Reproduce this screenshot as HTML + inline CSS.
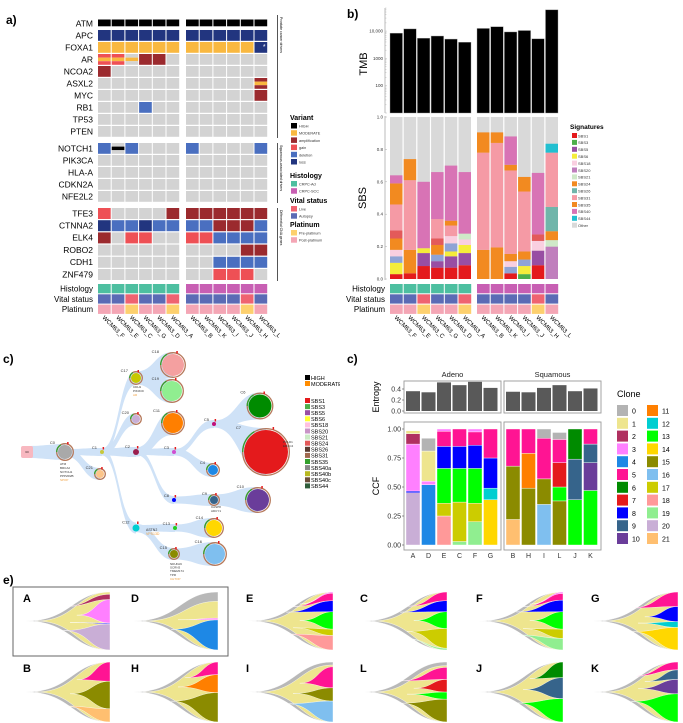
<!DOCTYPE html>
<html><head><meta charset="utf-8">
<style>
html,body{margin:0;padding:0;background:#fff;}
svg{display:block;font-family:"Liberation Sans",sans-serif;}
</style></head>
<body>
<svg id="fig" width="683" height="723" viewBox="0 0 683 723" xmlns="http://www.w3.org/2000/svg">
<defs><clipPath id="leftclip"><rect x="0" y="330" width="340" height="250"/></clipPath></defs>
</svg>
<script>
// ---------------- DATA ----------------
const sampleNames = ["WCM63_F","WCM63_E","WCM63_C","WCM63_G","WCM63_D","WCM63_A","WCM63_B","WCM63_K","WCM63_I","WCM63_J","WCM63_H","WCM63_L"];
const geneGroup1 = ["ATM","APC","FOXA1","AR","NCOA2","ASXL2","MYC","RB1","TP53","PTEN"];
const geneGroup2 = ["NOTCH1","PIK3CA","HLA-A","CDKN2A","NFE2L2"];
const geneGroup3 = ["TFE3","CTNNA2","ELK4","ROBO2","CDH1","ZNF479"];
const geneCalls = {
 "ATM":"H H H H H H H H H H H H","APC":"L L L L L L L L L L L L","FOXA1":"M M M M M M M M M M M L*",
 "AR":"GMG GMG .M. A A . . . . . . .","NCOA2":"A . . . . . . . . . . .","ASXL2":". . . . . . . . . . . AMA",
 "MYC":". . . . . . . . . . . A","RB1":". . . D . . . . . . . .","TP53":". . . . . . . . . . . .","PTEN":". . . . . . . . . . . .",
 "NOTCH1":"D .H. D . . . D . . . . D","PIK3CA":". . . . . . . . . . . .","HLA-A":". . . . . . . . . . . .",
 "CDKN2A":". . . . . . . . . . . .","NFE2L2":". . . . . . . . . . . .",
 "TFE3":"G . . . . A A A A A A A","CTNNA2":"L D D L D D D D A A A D","ELK4":"A . G G . . G G D D D D",
 "ROBO2":". . . . . . . . . . A A","CDH1":". . . . . . . . D D D D","ZNF479":". . . . . . . . G G G ."
};
const histology = ["Ad","Ad","Ad","Ad","Ad","Ad","SCC","SCC","SCC","SCC","SCC","SCC"];
const vital = ["A","A","L","A","A","L","A","A","A","A","L","A"];
const platinum = ["Post","Post","Pre","Post","Post","Pre","Post","Post","Post","Post","Pre","Post"];
// TMB
const tmbValues = [8400,12000,5500,6600,5100,3900,12500,14500,9300,10500,5200,60000];
const tmbTicks = [100,1000,10000];
const tmbTickLabels = ["100","1000","10,000"];
// SBS stacks
const sbsSeriesNames = ["SBS1","SBS3","SBS5","SBS6","SBS-b","SBS18","SBS20","SBS21","SBS35","SBS24r","SBS26","SBS31","SBS24","SBS40","SBS44"];
const sbsSBS1  = [.03,.035,.08,.07,.07,.085,0,0,.035,0,.085,0];
const sbsSBS3  = [0,0,0,0,0,0,0,0,0,.03,0,0];
const sbsSBS5  = [0,0,.08,.04,.07,.075,0,0,0,0,.09,0];
const sbsSBS6  = [.07,0,.03,0,.03,.05,0,0,0,.05,0,0];
const sbsSBSb  = [.04,0,0,.04,.05,0,0,0,.04,.04,0,0];
const sbsSBS18 = [.04,0,0,0,.045,.035,0,0,.035,0,.06,0];
const sbsSBS20 = [0,0,0,0,0,0,0,0,0,0,0,.2];
const sbsSBS21 = [0,0,0,0,0,.035,0,0,0,0,0,.04];
const sbsSBS35 = [.07,.145,0,.06,0,0,.18,.195,.045,.05,0,.055];
const sbsSBS24r= [.05,0,0,.04,0,0,0,0,0,0,.04,0];
const sbsSBS26 = [0,0,0,0,0,0,0,0,0,0,0,.15];
const sbsSBS31 = [.16,.43,0,.12,.065,0,.6,.645,.515,.37,0,.335];
const sbsSBS24 = [.13,.13,0,0,.03,0,.125,.065,.035,.09,0,0];
const sbsSBS40 = [.05,0,.41,.29,.34,.38,0,0,.175,0,.38,0];
const sbsSBS44 = [0,0,0,0,0,0,0,0,0,0,0,.055];
const sbsTicks = [0,0.2,0.4,0.6,0.8,1.0];
// Clone CCF
const ccfSamples = ["A","D","E","C","F","G","B","H","I","L","J","K"];
const entropyValues = [.36,.34,.52,.47,.53,.42,.35,.34,.42,.47,.36,.41];
const ccfClones = [[20,8,3,2,1],[4,3,1,0],[18,17,13,8,5,3],[19,17,13,8,5],[19,17,13,8,5,3],[14,12,8,5],
 [21,15,5],[15,11,5],[16,15,5,0],[15,13,7,5,0],[13,9,6],[13,10,9,5]];
const ccfValues = [[.45,.015,.405,.09,.025],[.52,.03,.26,.11],[.25,.11,.30,.19,.13,.02],[.03,.34,.29,.19,.15],[.2,.16,.30,.20,.115,.025],[.39,.10,.26,.25],
 [.22,.46,.32],[.49,.30,.21],[.35,.22,.35,.08],[.38,.12,.21,.20,.06],[.39,.35,.26],[.47,.24,.16,.13]];
const entropyTicks=[0,0.2,0.4];
const ccfTicks=[0,0.25,0.5,0.75,1.0];
const fishOrder=["A","D","E","C","F","G","B","H","I","L","J","K"];
// tree nodes
const treeNodes=[["C0",65,452,7,"#a9a9a9",null],["C21",100,474,4,"#fcc58a","C0"],["C1",102,452,2,"#c8c83c","C0"],
["C17",136,378,5,"#c8c800","C1"],["C18",173,365,11,"#f4a0a0","C17"],["C19",172,391,10,"#90ee90","C17"],
["C20",136,419,4,"#c9aed6","C1"],["C2",136,452,3,"#9b1f4e","C1"],["C11",173,423,10,"#ff7f00","C2"],
["C3",174,452,2,"#d04fd0","C2"],["C5",214,424,2,"#c0107a","C3"],["C6",260,406,11.5,"#008b00","C5"],
["C7",266,452,22,"#e41a1c","C5"],["C4",213,470,5,"#1e88e5","C3"],["C8",174,500,2,"#0000ff","C2"],
["C9",214,500,4,"#36648b","C8"],["C10",258,500,11,"#6a3d9a","C9"],["C12",136,528,3.5,"#00ced1","C1"],
["C13",175,528,2,"#22cc22","C12"],["C14",214,528,8,"#ffd700","C13"],["C15",174,554,4,"#8b8b00","C12"],["C16",215,554,10,"#7fbfef","C15"]];

// ---------------- HELPERS ----------------
const svg=document.getElementById('fig');
const NS="http://www.w3.org/2000/svg";
function add(parent,tag,attrs,name,text){
  const el=document.createElementNS(NS,tag);
  for(const k in attrs) el.setAttribute(k,attrs[k]);
  
  
  if(text!==undefined) el.textContent=text;
  (parent||svg).appendChild(el);
  return el;
}
function txt(x,y,s,size,opts,name){
  opts=opts||{};
  const a={x:x,y:y,'font-size':size,fill:opts.fill||'#000'};
  if(opts.anchor) a['text-anchor']=opts.anchor;
  if(opts.weight) a['font-weight']=opts.weight;
  if(opts.tr) a.transform=opts.tr;
  return add(opts.parent,'text',a,name||'label',s);
}
const COL={'.':'#d3d3d3','H':'#000000','M':'#f9b840','A':'#9b2a2e','G':'#ee5055','D':'#4a6fc0','L':'#22357f'};
function colX(i){return i<6?98+i*13.7:186+(i-6)*13.7;}
function colXb(i){return i<6?390+i*13.7:477+(i-6)*13.7;}

// ---------------- PANEL A ----------------
txt(6,24,"a)",12,{weight:'bold'},'panel-a-label');
function drawGeneRows(genes,top,pitch){
  genes.forEach((g,k)=>{
    const y=top+k*pitch;
    txt(93,y+8.3,g,8.5,{anchor:'end'},'gene-label-'+g.toLowerCase());
    const calls=geneCalls[g].split(' ');
    calls.forEach((c,i)=>{
      const x=colX(i),w=12.7,h=pitch-1.2;
      const star=c.endsWith('*'); const code=c.replace('*','');
      if(g==="ATM"){
        add(null,'rect',{x:x,y:y+1.5,width:w,height:h-4,fill:'#000'},'cell-'+g.toLowerCase());
      } else if(code.length===3){
        add(null,'rect',{x:x,y:y,width:w,height:h/3,fill:COL[code[0]]},'cell-'+g.toLowerCase());
        add(null,'rect',{x:x,y:y+h/3,width:w,height:h/3,fill:COL[code[1]]},'cell-'+g.toLowerCase());
        add(null,'rect',{x:x,y:y+2*h/3,width:w,height:h/3,fill:COL[code[2]]},'cell-'+g.toLowerCase());
      } else {
        add(null,'rect',{x:x,y:y,width:w,height:h,fill:COL[code]},'cell-'+g.toLowerCase());
      }
      if(star) txt(x+w-3,y+7,"*",7,{fill:'#fff',anchor:'middle'},'star-marker');
    });
  });
}
drawGeneRows(geneGroup1,18,12);
drawGeneRows(geneGroup2,143,12);
drawGeneRows(geneGroup3,208,12.2);
function drawAnnot(xf,labX){
  const rows=[["Histology",histology.map(v=>v==="Ad"?'#4dbfa0':'#c85fb3')],["Vital status",vital.map(v=>v==="L"?'#ef6371':'#5b6bb5')],["Platinum",platinum.map(v=>v==="Pre"?'#fdd06e':'#f4a6b5')]];
  rows.forEach((r,k)=>{
    const y=284+k*10.3;
    txt(labX,y+7.5,r[0],8,{anchor:'end'},'annotation-label');
    r[1].forEach((c,i)=>add(null,'rect',{x:xf(i),y:y,width:12.7,height:9.3,fill:c},'annotation-cell'));
  });
}
drawAnnot(colX,93);
sampleNames.forEach((s,i)=>{txt(colX(i)+4,318,s,6,{tr:'rotate(45 '+(colX(i)+4)+' 318)'},'sample-label');});
[[15,138,"Prostate cancer drivers"],[143,203,"Squamous-associated drivers"],[208,281,"Differential CNA genes"]].forEach(s=>{
  add(null,'line',{x1:277.5,y1:s[0],x2:277.5,y2:s[1],stroke:'#555','stroke-width':1},'group-bracket');
  txt(280,s[0]+2,s[2],3.5,{tr:'rotate(90 280 '+(s[0]+2)+')'},'group-title');
});
const legA=[["Variant",117,[["HIGH",'#000'],["MODERATE",'#f9b840'],["amplification",'#9b2a2e'],["gain",'#ee5055'],["deletion",'#4a6fc0'],["loss",'#22357f']]],
["Histology",175,[["CRPC-Ad",'#4dbfa0'],["CRPC-SCC",'#c85fb3']]],["Vital status",200,[["Live",'#ef6371'],["Autopsy",'#5b6bb5']]],["Platinum",224,[["Pre-platinum",'#fdd06e'],["Post-platinum",'#f4a6b5']]]];
legA.forEach(g=>{
  txt(290,g[1]+3,g[0],7,{weight:'bold'},'legend-title');
  g[2].forEach((it,k)=>{const y=g[1]+6+k*7.2;
    add(null,'rect',{x:291,y:y,width:6,height:5.5,fill:it[1]},'legend-swatch');
    txt(299,y+4.5,it[0],3.8,{fill:'#333'},'legend-entry');});
});

// ---------------- PANEL B ----------------
txt(347,18,"b)",12,{weight:'bold'},'panel-b-label');
function tmbY(v){return 113-(Math.log10(v)-1)*27.3;}
add(null,'line',{x1:385,y1:8,x2:385,y2:113,stroke:'#aaa','stroke-width':0.8},'tmb-axis');
tmbTicks.forEach((t,k)=>{txt(383,tmbY(t)+1.5,tmbTickLabels[k],4.5,{anchor:'end',fill:'#333'},'tmb-tick-label');});
for(let d=1;d<5;d++)for(let m=1;m<10;m++){const v=m*Math.pow(10,d);const y=tmbY(v);if(y>7)add(null,'line',{x1:385,y1:y,x2:m===1?387:386.5,y2:y,stroke:'#aaa','stroke-width':0.4},'tmb-tick');}
txt(367,64,"TMB",11,{anchor:'middle',tr:'rotate(-90 367 64)'},'tmb-axis-title');
tmbValues.forEach((v,i)=>add(null,'rect',{x:colXb(i),y:tmbY(v),width:12.5,height:113-tmbY(v),fill:'#000',stroke:'#999','stroke-width':0.4},'tmb-bar'));
function sbsY(v){return 279-v*162;}
add(null,'line',{x1:385,y1:116,x2:385,y2:280,stroke:'#aaa','stroke-width':0.8},'sbs-axis');
sbsTicks.forEach(t=>{txt(383,sbsY(t)+1.5,t.toFixed(1),4.5,{anchor:'end',fill:'#333'},'sbs-tick-label');add(null,'line',{x1:385,y1:sbsY(t),x2:387,y2:sbsY(t),stroke:'#aaa','stroke-width':0.5},'sbs-tick');});
txt(366,198,"SBS",11,{anchor:'middle',tr:'rotate(-90 366 198)'},'sbs-axis-title');
const sbsSeries=[sbsSBS1,sbsSBS3,sbsSBS5,sbsSBS6,sbsSBSb,sbsSBS18,sbsSBS20,sbsSBS21,sbsSBS35,sbsSBS24r,sbsSBS26,sbsSBS31,sbsSBS24,sbsSBS40,sbsSBS44];
const sbsColors=['#e41a1c','#4daf4a','#984ea3','#f5ed3a','#8fa3d5','#f9cfe0','#c07fbd','#cfe8c8','#f28a20','#e35a5a','#70b5aa','#f59aa5','#f28a20','#d873b5','#22bfd0'];
for(let i=0;i<12;i++){
  add(null,'rect',{x:colXb(i),y:sbsY(1),width:12.5,height:162,fill:'#d9d9d9'},'sbs-bar-other');
  let acc=0;
  sbsSeries.forEach((s,k)=>{if(s[i]>0){add(null,'rect',{x:colXb(i),y:sbsY(acc+s[i]),width:12.5,height:s[i]*162,fill:sbsColors[k]},'sbs-segment-'+sbsSeriesNames[k].toLowerCase());acc+=s[i];}});
}
drawAnnot(colXb,385);
sampleNames.forEach((s,i)=>{txt(colXb(i)+4,318,s,6,{tr:'rotate(45 '+(colXb(i)+4)+' 318)'},'sample-label');});
txt(570,129,"Signatures",6.5,{weight:'bold'},'signature-legend-title');
const sigLeg=[["SBS1",'#e41a1c'],["SBS3",'#4daf4a'],["SBS5",'#984ea3'],["SBS6",'#f5ed3a'],["SBS18",'#f9cfe0'],["SBS20",'#c07fbd'],["SBS21",'#cfe8c8'],["SBS24",'#f28a20'],["SBS26",'#70b5aa'],["SBS31",'#f59aa5'],["SBS35",'#f28a20'],["SBS40",'#d873b5'],["SBS44",'#22bfd0'],["Other",'#d9d9d9']];
sigLeg.forEach((it,k)=>{const y=133+k*6.9;add(null,'rect',{x:572,y:y,width:5,height:5,fill:it[1]},'signature-swatch');txt(578,y+4.3,it[0],4,{fill:'#333'},'signature-entry');});

// ---------------- PANEL C LEFT (tree) ----------------
txt(3,363,"c)",12,{weight:'bold'},'panel-c-tree-label');
const tg=add(null,'g',{'clip-path':'url(#leftclip)'},'clone-tree');
const byName={};treeNodes.forEach(n=>byName[n[0]]=n);
treeNodes.forEach(n=>{if(!n[5])return;const p=byName[n[5]];
  const px=p[1],py=p[2],cx=n[1],cy=n[2],r=n[3]+2,w0=Math.min(r*0.6,p[3]+1)+0.5,mx=(px+cx)/2;
  add(tg,'path',{d:`M${px},${py-w0} C${mx},${py-w0} ${mx},${cy-r} ${cx},${cy-r} L${cx},${cy+r} C${mx},${cy+r} ${mx},${py+w0} ${px},${py+w0} Z`,fill:'#cfe2f7'},'tree-branch');});
add(tg,'path',{d:'M27,446 C45,446 50,444 65,444 L65,460 C50,460 45,458 27,458 Z',fill:'#cfe2f7'},'tree-branch');
add(tg,'rect',{x:21,y:446,width:12,height:12,rx:2,fill:'#f8b8c0'},'root-node');
txt(27,453,"C0",2.5,{anchor:'middle'},'node-label');
treeNodes.forEach(n=>{
  const r=n[3];
  if(r>=4) add(tg,'circle',{cx:n[1],cy:n[2],r:r+1.3,fill:'none',stroke:'#b5785a','stroke-width':1.3},'node-ring');
  if(r>=4) add(tg,'path',{d:`M${n[1]-r-1.3},${n[2]} A${r+1.3},${r+1.3} 0 0 1 ${n[1]-(r+1.3)*0.5},${n[2]-(r+1.3)*0.87}`,fill:'none',stroke:'#33a02c','stroke-width':1.3},'node-ring-sbs35');
  add(tg,'circle',{cx:n[1],cy:n[2],r:r,fill:n[4]},'tree-node-'+n[0].toLowerCase());
  txt(n[1]-r-3,n[2]-r-1,n[0],4,{anchor:'end',fill:'#333',parent:tg},'node-name');
  add(tg,'rect',{x:n[1]+r*0.3,y:n[2]-r-3,width:1.5,height:2.5,fill:'#e41a1c'},'node-mutation-tick');
});
[["ATM",60,465],["BRCA2",60,469],["NOTCH1",60,473],["PPP2R2B",60,477]].forEach(t=>txt(t[1],t[2],t[0],3,{fill:'#333',parent:tg},'mutation-label'));
txt(60,481,"SPOP",3,{fill:'#f0a040',parent:tg},'mutation-label');
txt(133,388,"CDH1",3,{fill:'#333',parent:tg},'mutation-label');txt(133,392,"PIK3CD",3,{fill:'#333',parent:tg},'mutation-label');txt(133,396,"AR",3,{fill:'#f0a040',parent:tg},'mutation-label');
txt(283,443,"POLD1",3,{fill:'#333',parent:tg},'mutation-label');txt(283,447,"ERCC4",3,{fill:'#333',parent:tg},'mutation-label');
txt(211,508,"CASP8",3,{fill:'#333',parent:tg},'mutation-label');txt(211,512,"ADCY1",3,{fill:'#333',parent:tg},'mutation-label');
txt(146,531,"ASTN2",3.5,{fill:'#333',parent:tg},'mutation-label');txt(146,535,"VPS13D",3.5,{fill:'#f0a040',parent:tg},'mutation-label');
["NDUFA9","SCRN3","TMEM174","TPR"].forEach((s,k)=>txt(170,565+k*3.6,s,3,{fill:'#333',parent:tg},'mutation-label'));
txt(170,580,"CHTOP",3,{fill:'#f0a040',parent:tg},'mutation-label');
add(tg,'rect',{x:305,y:375,width:5,height:5,fill:'#000'},'legend-swatch-high');txt(311,380,"HIGH",5.5,{parent:tg},'legend-entry');
add(tg,'rect',{x:305,y:381,width:5,height:5,fill:'#ff8c00'},'legend-swatch-moderate');txt(311,386,"MODERATE",5.5,{parent:tg},'legend-entry');
const treeSig=[["SBS1",'#e41a1c'],["SBS3",'#4daf4a'],["SBS5",'#984ea3'],["SBS6",'#ffff33'],["SBS18",'#ffc0e0'],["SBS20",'#c994c7'],["SBS21",'#ccebc5'],["SBS24",'#e35a5a'],["SBS26",'#5a3c32'],["SBS31",'#a0694f'],["SBS35",'#33a02c'],["SBS40a",'#888888'],["SBS40b",'#b8b820'],["SBS40c",'#6b4e3a'],["SBS44",'#2f5d3a']];
treeSig.forEach((it,k)=>{const y=398+k*6.1;add(tg,'rect',{x:305,y:y,width:5,height:5,fill:it[1]},'tree-legend-swatch');txt(311,y+4.8,it[0],5.5,{parent:tg},'tree-legend-entry');});

// ---------------- PANEL C RIGHT (CCF) ----------------
txt(347,363,"c)",12,{weight:'bold'},'panel-c-ccf-label');
const cloneColors=['#b3b3b3','#eee58e','#b03060','#ff80ff','#1e88e5','#ff1493','#008b00','#e41a1c','#0000ff','#36648b','#6a3d9a','#ff7f00','#00ced1','#00ff00','#ffd700','#8b8b00','#7fbfef','#cccc00','#ff9999','#90ee90','#c9aed6','#ffbf70'];
function barX(i){return i<6?406+i*15.5:506+(i-6)*15.5;}
function entY(v){return 411-v*55;}
function ccfY(v){return 545-v*116;}
[[404,"Adeno"],[504,"Squamous"]].forEach(f=>{
  txt(f[0]+48.5,377,f[1],7.5,{anchor:'middle',fill:'#222'},'facet-strip-label');
  add(null,'rect',{x:f[0],y:381,width:97,height:32,fill:'#fff',stroke:'#999','stroke-width':0.9},'entropy-panel');
  add(null,'rect',{x:f[0],y:422,width:97,height:128,fill:'#fff',stroke:'#999','stroke-width':0.9},'ccf-panel');
});
entropyTicks.forEach(t=>{txt(401,entY(t)+2.3,t.toFixed(1),7,{anchor:'end',fill:'#333'},'entropy-tick-label');add(null,'line',{x1:402,y1:entY(t),x2:404,y2:entY(t),stroke:'#333','stroke-width':0.5},'entropy-tick');});
ccfTicks.forEach(t=>{txt(401,ccfY(t)+2.3,t.toFixed(2),7,{anchor:'end',fill:'#333'},'ccf-tick-label');add(null,'line',{x1:402,y1:ccfY(t),x2:404,y2:ccfY(t),stroke:'#333','stroke-width':0.5},'ccf-tick');});
txt(379,397,"Entropy",9,{anchor:'middle',tr:'rotate(-90 379 397)'},'entropy-axis-title');
txt(379,486,"CCF",9,{anchor:'middle',tr:'rotate(-90 379 486)'},'ccf-axis-title');
entropyValues.forEach((v,i)=>add(null,'rect',{x:barX(i),y:entY(v),width:14,height:411-entY(v),fill:'#595959'},'entropy-bar'));
ccfSamples.forEach((s,i)=>{
  let acc=0;
  ccfClones[i].forEach((c,k)=>{const v=ccfValues[i][k];
    add(null,'rect',{x:barX(i),y:ccfY(acc+v),width:14,height:v*116,fill:cloneColors[c],stroke:'#fff','stroke-width':0.4},'ccf-segment-clone-'+c);acc+=v;});
  txt(barX(i)+7,558,s,7,{anchor:'middle',fill:'#333'},'ccf-x-label');
});
txt(617,397,"Clone",9,{},'clone-legend-title');
cloneColors.forEach((c,k)=>{const col=k<11?0:1,row=k%11;const x=617+col*30,y=405+row*12.8;
  add(null,'rect',{x:x,y:y,width:11,height:11,fill:c},'clone-legend-swatch');txt(x+15,y+8.5,String(k),7,{},'clone-legend-entry');});

// ---------------- PANEL E (fish plots) ----------------
txt(3,584,"e)",12,{weight:'bold'},'panel-e-label');
add(null,'rect',{x:13,y:587,width:215,height:69,fill:'none',stroke:'#666','stroke-width':1},'highlight-box');
const fishLetterX=[23,131,246,360,476,591];
function wedge(g,sx,sy,ex,top,bot,fill,name){
  const mx=sx+(ex-sx)*0.55;
  add(g,'path',{d:`M${sx},${sy} C${mx},${sy} ${mx},${top} ${ex},${top} L${ex},${bot} C${mx},${bot} ${mx},${sy} ${sx},${sy} Z`,fill:fill,stroke:'#fff','stroke-width':0.4},name);
}
fishOrder.forEach((s,idx)=>{
  const row=idx<6?0:1,col=idx%6;
  const lx=fishLetterX[col],ty=row?662:592,by=row?722:650,cy=(ty+by)/2;
  txt(lx,ty+10,s,11,{weight:'bold'},'fish-label-'+s.toLowerCase());
  const x0=lx+2,x1=lx+87,W=x1-x0;
  const g=add(null,'g',{},'fishplot-'+s.toLowerCase());
  wedge(g,x0,cy,x1,ty,by,'#b8b8b8','fish-clone-0');
  const i=ccfSamples.indexOf(s);
  const fy=v=>by-v*(by-ty);
  let tot=0;ccfClones[i].forEach((c,k)=>{if(c!==0)tot+=ccfValues[i][k];});
  wedge(g,x0+W*0.12,cy,x1,fy(Math.min(tot+0.03,1)),by,'#eee58e','fish-clone-1');
  let acc=0;
  ccfClones[i].forEach((c,k)=>{const v=ccfValues[i][k];
    if(c!==0&&c!==1){const top=fy(acc+v),bot=fy(acc);const sy=(top+bot)/2*0.6+cy*0.4;
      wedge(g,x0+W*(0.45+0.08*(k%3)),sy,x1,top,bot,cloneColors[c],'fish-clone-'+c);}
    acc+=v;});
});
</script>
</body></html>
